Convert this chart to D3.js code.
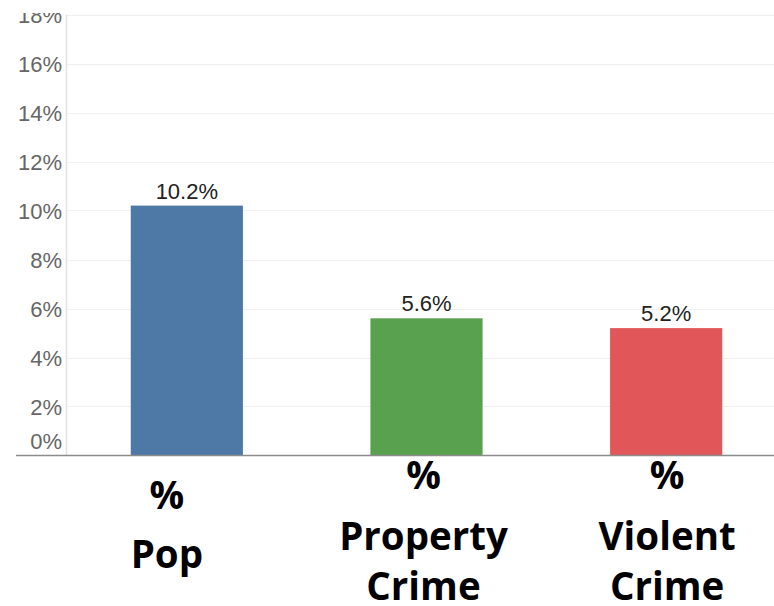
<!DOCTYPE html>
<html>
<head>
<meta charset="utf-8">
<script src="https://cdn.jsdelivr.net/npm/d3@7"></script>
<style>
  html, body { margin: 0; padding: 0; background: #fff; }
  svg { display: block; }
</style>
</head>
<body>
<svg id="chart" width="774" height="606"></svg>
<script>
// ---- data ----
const categories = ["% Pop", "% Property Crime", "% Violent Crime"];
const labelLines = [["%", "Pop"], ["%", "Property", "Crime"], ["%", "Violent", "Crime"]];
const values = [10.2, 5.6, 5.2];
const valueLabels = ["10.2%", "5.6%", "5.2%"];
const barColors = ["#4e79a7", "#59a14f", "#e15759"];
const yTicks = [0, 2, 4, 6, 8, 10, 12, 14, 16, 18];

// ---- layout ----
const W = 774, H = 606;
const svg = d3.select("#chart");

const y = d3.scaleLinear().domain([0, 18]).range([455.5, 14.5]);
const x = d3.scaleBand().domain(categories).range([67, 786])
  .paddingInner(0.532).paddingOuter(0.266);

// clip for the top of the plot area
svg.append("defs").append("clipPath").attr("id", "clipTop")
  .attr("clipPathUnits", "userSpaceOnUse")
  .append("rect").attr("x", -200).attr("y", 13).attr("width", W + 400).attr("height", H);

// gridlines
svg.append("g")
  .selectAll("line").data(yTicks.filter(d => d > 0)).join("line")
  .attr("x1", 67).attr("x2", W)
  .attr("y1", d => Math.round(y(d)) + 0.5).attr("y2", d => Math.round(y(d)) + 0.5)
  .attr("stroke", "#f0f0f0").attr("stroke-width", 1);

// y axis labels
const yAxis = d3.axisLeft(y).tickValues(yTicks).tickFormat(d => d + "%").tickSize(0).tickPadding(0);
const yg = svg.append("g").attr("transform", "translate(62,0)")
  .attr("clip-path", "url(#clipTop)")
  .call(yAxis);
yg.select(".domain").remove();
yg.selectAll("text")
  .attr("font-family", "'Liberation Sans', Arial, sans-serif")
  .attr("font-size", 22)
  .attr("fill", "#666")
  .attr("dy", "0.36em")
  .attr("y", d => d === 0 ? -15 : 0);

// vertical axis line
svg.append("line")
  .attr("x1", 66.5).attr("x2", 66.5).attr("y1", 14.5).attr("y2", 455)
  .attr("stroke", "#e2e2e2").attr("stroke-width", 1.5);

// bars
svg.append("g").selectAll("rect").data(values).join("rect")
  .attr("x", (d, i) => x(categories[i]))
  .attr("width", x.bandwidth())
  .attr("y", d => y(d))
  .attr("height", d => y(0) - y(d))
  .attr("fill", (d, i) => barColors[i]);

// value labels
svg.append("g").selectAll("text").data(values).join("text")
  .attr("x", (d, i) => x(categories[i]) + x.bandwidth() / 2)
  .attr("y", d => y(d) - 7)
  .attr("text-anchor", "middle")
  .attr("font-family", "'Liberation Sans', Arial, sans-serif")
  .attr("font-size", 22)
  .attr("fill", "#222")
  .text((d, i) => valueLabels[i]);

// baseline
svg.append("line")
  .attr("x1", 16).attr("x2", W).attr("y1", 455.5).attr("y2", 455.5)
  .attr("stroke", "#8c8c8c").attr("stroke-width", 1.5);

// category labels (large bold, beneath axis)
const shift = [-20, -3, 1];
const baselines = [[509, 568], [489, 550, 600], [489, 550, 600]];
const xl = svg.append("g");
labelLines.forEach((lines, i) => {
  const cx = x(categories[i]) + x.bandwidth() / 2 + shift[i];
  lines.forEach((t, j) => {
    xl.append("text")
      .attr("x", cx)
      .attr("y", baselines[i][j])
      .attr("text-anchor", "middle")
      .attr("font-family", "'Open Sans', sans-serif")
      .attr("font-weight", 700)
      .attr("font-size", 38.5)
      .attr("fill", "#000")
      .text(t);
  });
});
</script>
</body>
</html>
